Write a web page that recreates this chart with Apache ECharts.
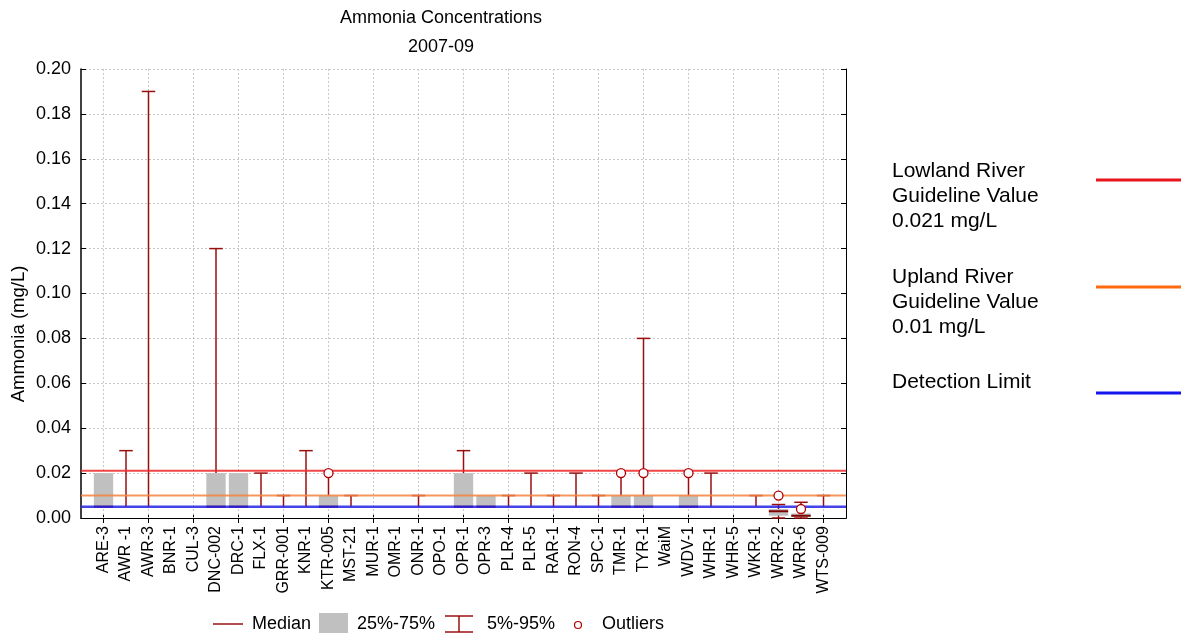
<!DOCTYPE html>
<html><head><meta charset="utf-8">
<script src="https://cdn.jsdelivr.net/npm/echarts@6/dist/echarts.min.js"></script>
<style>html,body{margin:0;padding:0;background:#fff}#c{width:1186px;height:634px}</style>
</head><body><div id="c"></div>
<script>
const categories = ['ARE-3','AWR -1','AWR-3','BNR-1','CUL-3','DNC-002','DRC-1','FLX-1','GRR-001','KNR-1','KTR-005','MST-21','MUR-1','OMR-1','ONR-1','OPO-1','OPR-1','OPR-3','PLR-4','PLR-5','RAR-1','RON-4','SPC-1','TMR-1','TYR-1','WaiM','WDV-1','WHR-1','WHR-5','WKR-1','WRR-2','WRR-6','WTS-009'];
const p5     = [0.005,0.005,0.005,0.005,0.005,0.005,0.005,0.005,0.005,0.005,0.005,0.005,0.005,0.005,0.005,0.005,0.005,0.005,0.005,0.005,0.005,0.005,0.005,0.005,0.005,0.005,0.005,0.005,0.005,0.005,0.0,0.0,0.005];
const q1     = [0.005,0.005,0.005,0.005,0.005,0.005,0.005,0.005,0.005,0.005,0.005,0.005,0.005,0.005,0.005,0.005,0.005,0.005,0.005,0.005,0.005,0.005,0.005,0.005,0.005,0.005,0.005,0.005,0.005,0.005,0.001,0.0005,0.005];
const median = [0.005,0.005,0.005,0.005,0.005,0.005,0.005,0.005,0.005,0.005,0.005,0.005,0.005,0.005,0.005,0.005,0.005,0.005,0.005,0.005,0.005,0.005,0.005,0.005,0.005,0.005,0.005,0.005,0.005,0.005,0.003,0.001,0.005];
const q3     = [0.02,0.005,0.005,0.005,0.005,0.02,0.02,0.005,0.005,0.005,0.01,0.005,0.005,0.005,0.005,0.005,0.02,0.01,0.005,0.005,0.005,0.005,0.005,0.01,0.01,0.005,0.01,0.005,0.005,0.005,0.004,0.002,0.005];
const p95    = [0.02,0.03,0.19,0.005,0.005,0.12,0.02,0.02,0.01,0.03,0.02,0.01,0.005,0.005,0.01,0.005,0.03,0.01,0.01,0.02,0.01,0.02,0.01,0.02,0.08,0.005,0.02,0.02,0.005,0.01,0.006,0.007,0.01];
const outlierCats   = ['KTR-005','TMR-1','TYR-1','WDV-1','WRR-2','WRR-6'];
const outlierValues = [0.02,0.02,0.02,0.02,0.01,0.004];
const guideLabels = [['Lowland River','Guideline Value','0.021 mg/L'],['Upland River','Guideline Value','0.01 mg/L'],['Detection Limit']];
const guideValues = [0.021, 0.01, 0.005];
const yTickLabels = ['0.00','0.02','0.04','0.06','0.08','0.10','0.12','0.14','0.16','0.18','0.20'];

const FONT = '"Liberation Sans", Arial, sans-serif';
const guidePlotColors = ['#ee2626','#f5843f','#2323e6'];
const guideLegendColors = ['#e8141c','#ff6a10','#1515ee'];
const WHISK = '#990f0f';
const axisCats = [''].concat(categories, ['']);
const tickShow = function (idx) { return idx % 2 === 1; };

const boxData = categories.map((c, i) => [i + 1, p5[i], q1[i], median[i], q3[i], p95[i]]);
const outData = outlierCats.map((c, i) => [categories.indexOf(c) + 1, outlierValues[i]]);

function hasOutlierAt(i, v) {
  for (let k = 0; k < outlierCats.length; k++) {
    if (outlierCats[k] === categories[i] && Math.abs(outlierValues[k] - v) < 1e-9) return true;
  }
  return false;
}

function renderBox(params, api) {
  const idx = api.value(0);
  const i = idx - 1;
  const cs = params.coordSys;
  const lo = api.coord([idx, api.value(1)]);
  const b1 = api.coord([idx, api.value(2)]);
  const md = api.coord([idx, api.value(3)]);
  const b3 = api.coord([idx, api.value(4)]);
  const hi = api.coord([idx, api.value(5)]);
  const band = api.size([1, 0])[0];
  const bw = band * 0.86, cw = band * 0.6;
  const cx = lo[0];
  const st = { stroke: WHISK, lineWidth: 1.5 };
  const ch = [];
  if (idx % 2 === 1) {
    ch.push({ type: 'line', shape: { x1: cx, y1: cs.y, x2: cx, y2: cs.y + cs.height },
      style: { stroke: '#c8c8c8', lineWidth: 1, lineDash: [2, 2] } });
  }
  const hasBox = b1[1] - b3[1] > 0.5;
  if (hasBox) {
    ch.push({ type: 'rect', shape: { x: cx - bw / 2, y: b3[1], width: bw, height: b1[1] - b3[1] }, style: { fill: '#c0c0c0' } });
    ch.push({ type: 'line', shape: { x1: cx - bw / 2, y1: md[1], x2: cx + bw / 2, y2: md[1] }, style: { stroke: '#800000', lineWidth: 2 } });
  }
  if (b3[1] - hi[1] > 0.5) {
    ch.push({ type: 'line', shape: { x1: cx, y1: b3[1], x2: cx, y2: hi[1] }, style: st });
    if (!hasOutlierAt(i, api.value(5))) {
      ch.push({ type: 'line', shape: { x1: cx - cw / 2, y1: hi[1], x2: cx + cw / 2, y2: hi[1] }, style: st });
    }
  }
  if (lo[1] - b1[1] > 0.5) {
    ch.push({ type: 'line', shape: { x1: cx, y1: b1[1], x2: cx, y2: lo[1] }, style: st });
    ch.push({ type: 'line', shape: { x1: cx - cw / 2, y1: lo[1], x2: cx + cw / 2, y2: lo[1] }, style: st });
  }
  return { type: 'group', children: ch };
}

function renderGuide(params, api) {
  const v = api.value(1);
  const k = api.value(2);
  const cs = params.coordSys;
  const y = api.coord([1, v])[1];
  return { type: 'line', shape: { x1: cs.x, y1: y, x2: cs.x + cs.width, y2: y },
    style: { stroke: guidePlotColors[k], lineWidth: k === 2 ? 2.5 : 2, opacity: 0.85 } };
}

const graphics = [
  { type: 'text', x: 441, y: 18, style: { text: 'Ammonia Concentrations', textAlign: 'center', textVerticalAlign: 'middle', font: '18px ' + FONT, fill: '#000' } },
  { type: 'text', x: 441, y: 47, style: { text: '2007-09', textAlign: 'center', textVerticalAlign: 'middle', font: '18px ' + FONT, fill: '#000' } },
  { type: 'text', x: 19, y: 334, rotation: Math.PI / 2, style: { text: 'Ammonia (mg/L)', textAlign: 'center', textVerticalAlign: 'middle', font: '18.5px ' + FONT, fill: '#000' } },
  // bottom legend
  { type: 'line', shape: { x1: 213, y1: 624, x2: 243, y2: 624 }, style: { stroke: WHISK, lineWidth: 1.5 } },
  { type: 'text', x: 252, y: 624, style: { text: 'Median', textVerticalAlign: 'middle', font: '18px ' + FONT, fill: '#000' } },
  { type: 'rect', shape: { x: 319, y: 613, width: 29, height: 20 }, style: { fill: '#c0c0c0' } },
  { type: 'text', x: 357, y: 624, style: { text: '25%-75%', textVerticalAlign: 'middle', font: '18px ' + FONT, fill: '#000' } },
  { type: 'line', shape: { x1: 459, y1: 616, x2: 459, y2: 632 }, style: { stroke: WHISK, lineWidth: 1.5 } },
  { type: 'line', shape: { x1: 445, y1: 616, x2: 473, y2: 616 }, style: { stroke: WHISK, lineWidth: 1.5 } },
  { type: 'line', shape: { x1: 445, y1: 632, x2: 473, y2: 632 }, style: { stroke: WHISK, lineWidth: 1.5 } },
  { type: 'text', x: 487, y: 624, style: { text: '5%-95%', textVerticalAlign: 'middle', font: '18px ' + FONT, fill: '#000' } },
  { type: 'circle', shape: { cx: 578, cy: 625, r: 3.5 }, style: { fill: '#fff', stroke: '#b00000', lineWidth: 1.2 } },
  { type: 'text', x: 602, y: 624, style: { text: 'Outliers', textVerticalAlign: 'middle', font: '18px ' + FONT, fill: '#000' } }
];
// right legend
const legendTop = [171, 277, 382];
const legendLineY = [180, 287, 393];
guideLabels.forEach((lines, k) => {
  lines.forEach((t, j) => {
    graphics.push({ type: 'text', x: 892, y: legendTop[k] + j * 25, style: { text: t, textVerticalAlign: 'middle', font: '21px ' + FONT, fill: '#000' } });
  });
  graphics.push({ type: 'line', shape: { x1: 1096, y1: legendLineY[k], x2: 1181, y2: legendLineY[k] }, style: { stroke: guideLegendColors[k], lineWidth: 3 } });
});

const chart = echarts.init(document.getElementById('c'), null, { renderer: 'canvas' });
chart.setOption({
  animation: false,
  backgroundColor: '#fff',
  grid: { left: 81, right: 340, top: 69, bottom: 116 },
  xAxis: [
    { type: 'category', data: axisCats, boundaryGap: false, position: 'bottom',
      axisLine: { lineStyle: { color: '#000', width: 1 } },
      axisTick: { inside: true, length: 5, interval: tickShow, lineStyle: { color: '#000' } },
      axisLabel: { interval: 0, rotate: 90, margin: 8, color: '#000', fontSize: 16, fontFamily: FONT },
      splitLine: { show: false } },
    { type: 'category', data: axisCats, boundaryGap: false, position: 'top',
      axisLine: { lineStyle: { color: '#000', width: 1 } },
      axisTick: { inside: true, length: 5, interval: tickShow, lineStyle: { color: '#000' } },
      axisLabel: { show: false }, splitLine: { show: false } }
  ],
  yAxis: [
    { type: 'value', min: 0, max: 0.2, interval: 0.02, position: 'left',
      axisLine: { show: true, lineStyle: { color: '#000', width: 1.5 } },
      axisTick: { show: true, inside: true, length: 5, lineStyle: { color: '#000' } },
      axisLabel: { margin: 10, color: '#000', fontSize: 18, fontFamily: FONT, formatter: (v) => yTickLabels[Math.round(v / 0.02)] },
      splitLine: { show: true, lineStyle: { color: '#c8c8c8', type: [2, 2], width: 1 } } },
    { type: 'value', min: 0, max: 0.2, interval: 0.02, position: 'right',
      axisLine: { show: true, lineStyle: { color: '#000', width: 1 } },
      axisTick: { show: true, inside: true, length: 5, lineStyle: { color: '#000' } },
      axisLabel: { show: false }, splitLine: { show: false } }
  ],
  series: [
    { type: 'custom', name: 'box', renderItem: renderBox, data: boxData, encode: { x: 0, y: [1, 2, 3, 4, 5] }, z: 2, clip: false },
    { type: 'custom', name: 'guides', renderItem: renderGuide, data: guideValues.map((v, k) => [1, v, k]), encode: { x: 0, y: 1 }, z: 5 },
    { type: 'scatter', name: 'Outliers', data: outData, symbol: 'circle', symbolSize: 9, z: 6,
      itemStyle: { color: '#fff', borderColor: '#b00000', borderWidth: 1.3, opacity: 1 } }
  ],
  graphic: graphics
});
</script></body></html>
